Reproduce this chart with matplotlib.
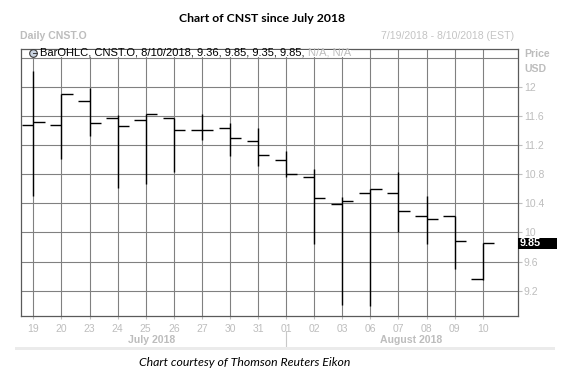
import numpy as np
import matplotlib
matplotlib.use("Agg")
import matplotlib.pyplot as plt
import matplotlib.transforms as mtransforms
from matplotlib.patches import Rectangle

# daily OHLC for CNST.O, 7/19/2018 - 8/10/2018
days = ['19', '20', '23', '24', '25', '26', '27', '30', '31',
        '01', '02', '03', '06', '07', '08', '09', '10']
opens = [11.48, 11.48, 11.80, 11.57, 11.54, 11.57, 11.40, 11.43, 11.26,
         11.00, 10.76, 10.39, 10.54, 10.54, 10.23, 10.23, 9.36]
highs = [12.22, 11.90, 11.98, 11.61, 11.62, 11.57, 11.62, 11.50, 11.43,
         11.12, 10.87, 10.49, 10.60, 10.83, 10.50, 10.23, 9.85]
lows = [10.50, 11.01, 11.32, 10.61, 10.66, 10.83, 11.27, 11.05, 10.91,
        10.76, 9.84, 9.00, 8.99, 10.00, 9.84, 9.50, 9.35]
closes = [11.51, 11.90, 11.50, 11.46, 11.62, 11.40, 11.40, 11.29, 11.06,
          10.80, 10.47, 10.43, 10.60, 10.30, 10.19, 9.88, 9.85]
price_ticks = [9.2, 9.6, 10.0, 10.4, 10.8, 11.2, 11.6, 12.0]
months = ['July 2018', 'August 2018']

GRAY = '#bdbdbd'
GRID = '#808080'

fig = plt.figure(figsize=(5.67, 3.79), dpi=100)
ax = fig.add_axes([20.7 / 567, 1 - 316 / 379, (517.5 - 20.7) / 567, (316 - 49) / 379])

x = np.arange(len(days))
ax.vlines(x, lows, highs, color='black', lw=1.0, zorder=3)
ax.hlines(opens, x - 0.4, x, color='black', lw=1.0, zorder=3)
ax.hlines(closes, x, x + 0.4, color='black', lw=1.0, zorder=3)

ax.set_xlim(-0.45, 17.24)
ax.set_ylim(8.853, 12.517)

# grid
for xi in x:
    ax.axvline(xi, color=GRID, lw=0.8, zorder=1)
for yv in price_ticks + [12.4]:
    ax.axhline(yv, color=GRID, lw=0.8, zorder=1)

for s in ax.spines.values():
    s.set_color('#5a5a5a')
    s.set_linewidth(0.9)

ax.yaxis.tick_right()
ax.set_yticks(price_ticks)
ax.set_yticklabels(['%g' % v for v in price_ticks])
ax.tick_params(axis='y', colors=GRAY, labelcolor=GRAY, length=3, pad=1.5,
               labelsize=7.5, width=0.8)
ax.set_xticks(x)
ax.set_xticklabels(days)
ax.tick_params(axis='x', colors=GRAY, labelcolor=GRAY, length=2, pad=4,
               labelsize=7.5, width=0.8)
for lab in ax.get_xticklabels() + ax.get_yticklabels():
    lab.set_family('Liberation Sans')

# legend row at top of plot
trans = mtransforms.blended_transform_factory(ax.transData, ax.transAxes)
leg_black = 'BarOHLC, CNST.O, 8/10/2018, 9.36, 9.85, 9.35, 9.85,'
leg_gray = 'N/A, N/A'
ty = 12.465
t1 = ax.text(0.25, ty, leg_black, color='black', fontsize=8.0, family='Liberation Sans',
             va='center', ha='left', zorder=7)
fig.canvas.draw()
bb1 = t1.get_window_extent().transformed(ax.transData.inverted())
t2 = ax.text(bb1.x1 + 0.12, ty, leg_gray, color=GRAY, fontsize=8.0, family='Liberation Sans',
             va='center', ha='left', zorder=7)
fig.canvas.draw()
bb2 = t2.get_window_extent().transformed(ax.transData.inverted())
ax.add_patch(Rectangle((-0.1, 12.41), bb2.x1 + 0.1, 0.1, facecolor='white',
                       edgecolor='none', zorder=5))
ax.plot([0], [ty], marker='o', ms=5.5, mfc='#c9d3e0', mec='#3a3a3a', mew=0.8, zorder=8)
ax.plot([0, 0.12], [ty, ty], color='#3a3a3a', lw=0.7, zorder=9)

# last price label
c = closes[-1]
rtrans = mtransforms.blended_transform_factory(ax.transAxes, ax.transData)
ax.add_patch(Rectangle((1.0, c - 0.078), 39 / 496.8, 0.156, transform=rtrans,
                       facecolor='black', edgecolor='none', clip_on=False, zorder=6))
ax.text(1.004, c, '%.2f' % c, transform=rtrans,
        color='white', fontsize=7.8, fontweight='bold', family='Liberation Sans',
        va='center', ha='left', zorder=7)

# month labels and separators
ax.text(4.2, -0.09, months[0], transform=trans, color=GRAY, fontsize=7.6, fontweight='bold',
        family='Liberation Sans', ha='center', va='center')
ax.text(13.47, -0.09, months[1], transform=trans, color=GRAY, fontsize=7.6, fontweight='bold',
        family='Liberation Sans', ha='center', va='center')
ax.plot([9, 9], [-0.056, -0.115], transform=trans, color='#c8c8c8', lw=0.8, clip_on=False)
fig.add_artist(Rectangle((15 / 567, 1 - 350 / 379), 540 / 567, 3.5 / 379,
                         transform=fig.transFigure, facecolor='#ebebeb', edgecolor='none'))

# header texts
fig.text(262.5 / 567, 1 - 18 / 379, 'Chart of CNST since July 2018', ha='center', va='center',
         fontsize=8.8, fontweight='bold', family='Lato')
fig.text(20 / 567, 1 - 36 / 379, 'Daily CNST.O', ha='left', va='center', color=GRAY,
         fontsize=7.6, fontweight='bold', family='Liberation Sans')
fig.text(514 / 567, 1 - 36 / 379, '7/19/2018 - 8/10/2018 (EST)', ha='right', va='center',
         color='#c4c4c4', fontsize=7.6, family='Liberation Sans')
fig.text(524 / 567, 1 - 54 / 379, 'Price', ha='left', va='center', color=GRAY,
         fontsize=7.6, fontweight='bold', family='Liberation Sans')
fig.text(524 / 567, 1 - 68.5 / 379, 'USD', ha='left', va='center', color=GRAY,
         fontsize=7.6, fontweight='bold', family='Liberation Sans')
fig.text(245 / 567, 1 - 362 / 379, 'Chart courtesy of Thomson Reuters Eikon', ha='center',
         va='center', fontsize=8.8, style='italic', family='Lato')

fig.savefig('out.png', dpi=100)
